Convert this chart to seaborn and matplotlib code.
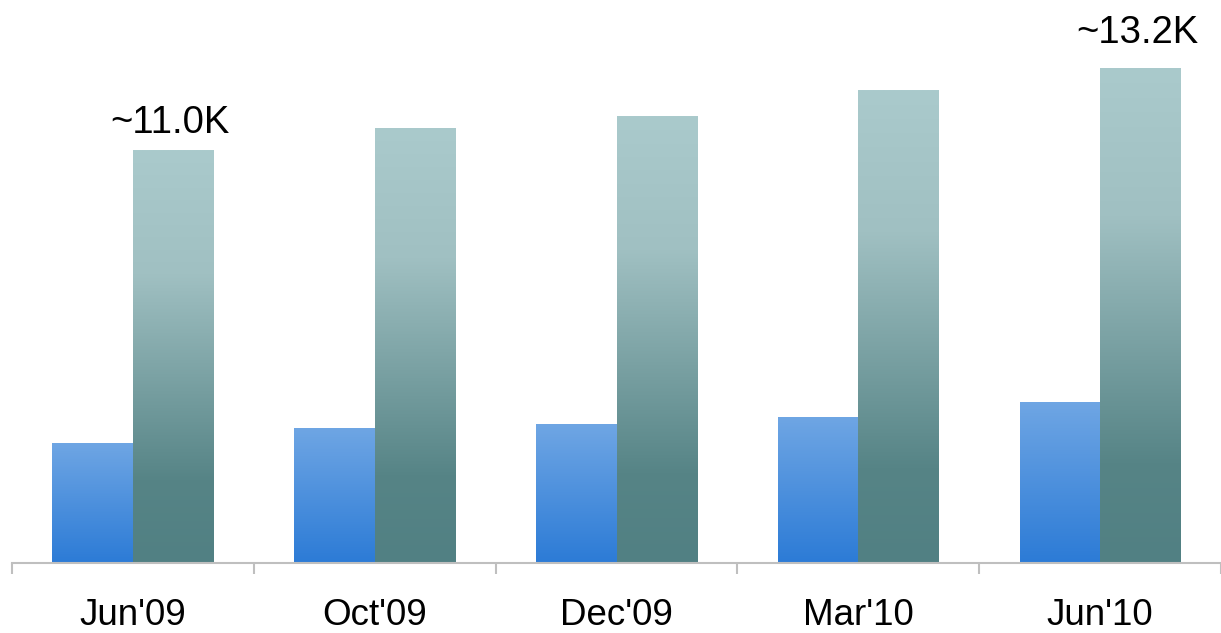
import numpy as np
import pandas as pd
import matplotlib
matplotlib.use("Agg")
import matplotlib.pyplot as plt
from matplotlib.colors import LinearSegmentedColormap
import seaborn as sns

# ---- data (values in thousands) ----
periods = ["Jun'09", "Oct'09", "Dec'09", "Mar'10", "Jun'10"]
series_a = [3.2, 3.6, 3.7, 3.9, 4.3]        # blue bars
series_b = [11.0, 11.6, 11.9, 12.6, 13.2]   # teal bars
series_names = ["A", "B"]
annot_idx = [0, 4]
annot_text = ["~11.0K", "~13.2K"]

df = pd.DataFrame({
    "period": periods * 2,
    "value": series_a + series_b,
    "series": [series_names[0]] * len(periods) + [series_names[1]] * len(periods),
})

sns.set_theme(style="white")
plt.rcParams["font.family"] = ["Liberation Sans", "DejaVu Sans"]

W, H, DPI = 1221, 633, 100
fig = plt.figure(figsize=(W / DPI, H / DPI), dpi=DPI)
ax = fig.add_axes([12 / W, (H - 563) / H, 1209 / W, 563 / H])

sns.barplot(data=df, x="period", y="value", hue="series", order=periods,
            hue_order=series_names, width=2 / 3, gap=0, legend=False,
            palette=["#2c7bd6", "#518083"], ax=ax, errorbar=None)

# gradient fills
cmaps = [
    LinearSegmentedColormap.from_list("blue", [(0, (44/255, 123/255, 214/255)),
                                               (1, (111/255, 166/255, 228/255))]),
    LinearSegmentedColormap.from_list("teal", [(0, (81/255, 128/255, 131/255)),
                                               (0.2, (86/255, 132/255, 134/255)),
                                               (0.7, (160/255, 192/255, 194/255)),
                                               (1, (170/255, 202/255, 204/255))]),
]
grad = np.linspace(0, 1, 256).reshape(-1, 1)
for ci, cont in enumerate(ax.containers):
    for p in cont.patches:
        x, w, h = p.get_x(), p.get_width(), p.get_height()
        im = ax.imshow(grad, cmap=cmaps[ci], origin="lower", aspect="auto",
                       extent=[x, x + w, 0, h], zorder=p.get_zorder(),
                       interpolation="bilinear")
        im.set_clip_path(p)
        p.set_facecolor("none")
        p.set_edgecolor("none")

ax.set_xlim(-0.5, -0.5 + 1209 / 243)
ax.set_ylim(0, 15.0)

# annotations
offsets = [12, 18]
for k, i in enumerate(annot_idx):
    ax.annotate(annot_text[k], xy=(i + 1 / 6, series_b[i]),
                xytext=(-2, offsets[k]), textcoords="offset points",
                ha="center", va="baseline", fontsize=27.5, color="black")

# axes styling
for s in ["left", "top", "right"]:
    ax.spines[s].set_visible(False)
ax.spines["bottom"].set_color("#bfbfbf")
ax.spines["bottom"].set_linewidth(1.5)
ax.set_yticks([])
ax.set_xticks(np.arange(-0.5, len(periods), 1.0))
ax.set_xticklabels([])
ax.set_xticks(np.arange(len(periods)), minor=True)
ax.set_xticklabels(periods, minor=True)
ax.tick_params(axis="x", which="major", length=8, width=1.5, color="#bfbfbf",
               direction="out", bottom=True)
ax.tick_params(axis="x", which="minor", length=0, pad=25.5, labelsize=26.5,
               labelcolor="black")
ax.set_xlabel("")
ax.set_ylabel("")

fig.savefig("out.png", dpi=DPI)
